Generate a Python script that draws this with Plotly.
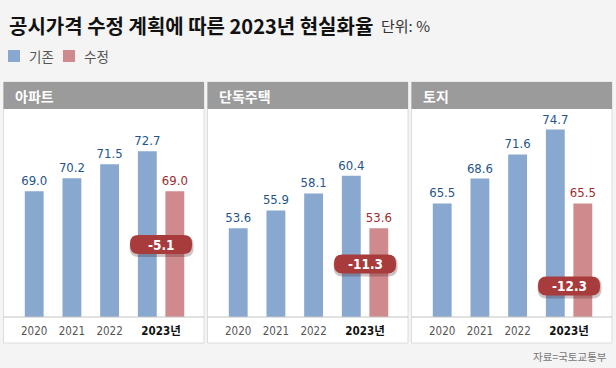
import plotly.graph_objects as go

# ---------------- data ----------------
years = ["2020", "2021", "2022", "2023년"]
categories = ["아파트", "단독주택", "토지"]
apt_base = [69.0, 70.2, 71.5, 72.7]
house_base = [53.6, 55.9, 58.1, 60.4]
land_base = [65.5, 68.6, 71.6, 74.7]
revised = [69.0, 53.6, 65.5]
diffs = [-5.1, -11.3, -12.3]
base_series = [apt_base, house_base, land_base]

# ---------------- styling / layout constants ----------------
W, H = 616, 368
BLUE = "#88a8d0"
RED = "#cf8a8d"
BLUE_TXT = "#24558a"
RED_TXT = "#9c2b2d"
PILL = "#a83b3c"
BG = "#f4f4f4"
HEADER = "#9b9b9b"
NARROW = "Liberation Sans Narrow, DejaVu Sans Condensed, Noto Sans CJK KR"
KR = "Noto Sans CJK KR"

panel_left = [3.5, 207.5, 411.5]
panel_w = 200.5
panel_top, header_bot, panel_bot = 82, 109, 343
plot_top, baseline = 112, 317
first_bar = 30.7   # px from panel left to first bar centre
unit = 37.7        # px per category step
red_off = 0.73     # offset of revised bar from 2023 base bar
y_ranges = [[57.44, 76.30], [42.06, 68.68], [51.38, 76.88]]
pill_cy = [244.5, 264, 286]
pill_w, pill_h = 62, 19


def px(x):
    return x / W


def py(y):
    return 1 - y / H


fig = go.Figure()
shapes = []
annotations = []

tick_pos = [0, 1, 2, 3 + red_off / 2]
tick_text = years[:3] + [f"<b><span style='color:#111'>{years[3]}</span></b>"]


def pill_path(cx, cy, w, h, r):
    x0, x1 = cx - w / 2, cx + w / 2
    y0, y1 = cy - h / 2, cy + h / 2
    pts = [("M", x0 + r, y0), ("L", x1 - r, y0), ("Q", x1, y0, x1, y0 + r),
           ("L", x1, y1 - r), ("Q", x1, y1, x1 - r, y1), ("L", x0 + r, y1),
           ("Q", x0, y1, x0, y1 - r), ("L", x0, y0 + r), ("Q", x0, y0, x0 + r, y0)]
    s = ""
    for p in pts:
        coords = p[1:]
        c = " ".join(f"{px(coords[k]):.5f},{py(coords[k + 1]):.5f}"
                     for k in range(0, len(coords), 2))
        s += f"{p[0]}{c} "
    return s + "Z"


for i in range(3):
    L = panel_left[i]
    R = L + panel_w
    sfx = "" if i == 0 else str(i + 1)
    xa = "x" + sfx
    ya = "y" + sfx
    xr = [-first_bar / unit, (panel_w - first_bar) / unit]

    fig.add_trace(go.Bar(
        x=[0, 1, 2, 3], y=base_series[i], xaxis=xa, yaxis=ya,
        marker=dict(color=BLUE, line=dict(width=0)), width=0.5,
        text=[f"{v:.1f}" for v in base_series[i]], textposition="outside",
        constraintext="none",
        textfont=dict(family=NARROW, size=13, color=BLUE_TXT),
        cliponaxis=False, showlegend=False, name="기존"))
    fig.add_trace(go.Bar(
        x=[3 + red_off], y=[revised[i]], xaxis=xa, yaxis=ya,
        marker=dict(color=RED, line=dict(width=0)), width=0.5,
        text=[f"{revised[i]:.1f}"], textposition="outside",
        constraintext="none",
        textfont=dict(family=NARROW, size=13, color=RED_TXT),
        cliponaxis=False, showlegend=False, name="수정"))

    fig.update_layout(**{
        "xaxis" + sfx: dict(domain=[px(L), px(R)], range=xr, anchor=ya,
                             tickvals=tick_pos, ticktext=tick_text,
                             showgrid=False, zeroline=False, showline=False,
                             ticks="", ticklabelstandoff=5,
                             tickfont=dict(family=NARROW, size=11.5, color="#555"),
                             fixedrange=True),
        "yaxis" + sfx: dict(domain=[py(baseline), py(plot_top)], range=y_ranges[i],
                             anchor=xa, visible=False, fixedrange=True),
    })

    shapes.append(dict(type="rect", xref="paper", yref="paper", layer="below",
                       x0=px(L), x1=px(R), y0=py(panel_bot), y1=py(panel_top),
                       fillcolor="white", line=dict(color="#dcdcdc", width=1)))
    shapes.append(dict(type="rect", xref="paper", yref="paper", layer="below",
                       x0=px(L), x1=px(R), y0=py(header_bot), y1=py(panel_top),
                       fillcolor=HEADER, line=dict(width=0)))
    shapes.append(dict(type="line", xref="paper", yref="paper", layer="above",
                       x0=px(L), x1=px(R), y0=py(baseline), y1=py(baseline),
                       line=dict(color="#c4c4c4", width=1.2)))
    annotations.append(dict(xref="paper", yref="paper", x=px(L + 9), y=py(95.5),
                            xanchor="left", yanchor="middle", showarrow=False,
                            text=f"<b>{categories[i]}</b>",
                            font=dict(family=KR, size=14, color="white")))

    cx = L + first_bar + tick_pos[3] * unit
    cy = pill_cy[i]
    shapes.append(dict(type="path", xref="paper", yref="paper", layer="above",
                       path=pill_path(cx + 0.5, cy + 2, pill_w + 2, pill_h + 2, 9),
                       fillcolor="rgba(60,20,20,0.25)", line=dict(width=0)))
    shapes.append(dict(type="path", xref="paper", yref="paper", layer="above",
                       path=pill_path(cx, cy, pill_w, pill_h, 8.5),
                       fillcolor=PILL, line=dict(width=0)))
    annotations.append(dict(xref="paper", yref="paper", x=px(cx), y=py(cy),
                            xanchor="center", yanchor="middle", showarrow=False,
                            text=f"<b>{diffs[i]:.1f}</b>",
                            font=dict(family=NARROW, size=13.5, color="white")))

annotations.append(dict(xref="paper", yref="paper", x=px(7), y=py(25),
                        xanchor="left", yanchor="middle", showarrow=False,
                        text="<b>공시가격 수정 계획에 따른 2023년 현실화율</b>",
                        font=dict(family=KR, size=20, color="#111")))
annotations.append(dict(xref="paper", yref="paper", x=px(379), y=py(26),
                        xanchor="left", yanchor="middle", showarrow=False,
                        text="단위: %",
                        font=dict(family=KR, size=15, color="#333")))

for lx, col, lab in [(8, BLUE, "기존"), (63, RED, "수정")]:
    shapes.append(dict(type="rect", xref="paper", yref="paper",
                       x0=px(lx), x1=px(lx + 12), y0=py(62), y1=py(50),
                       fillcolor=col, line=dict(width=0)))
    annotations.append(dict(xref="paper", yref="paper", x=px(lx + 19), y=py(56),
                            xanchor="left", yanchor="middle", showarrow=False,
                            text=lab, font=dict(family=KR, size=13.5, color="#555")))

annotations.append(dict(xref="paper", yref="paper", x=px(609), y=py(356),
                        xanchor="right", yanchor="middle", showarrow=False,
                        text="자료=국토교통부",
                        font=dict(family=KR, size=10.5, color="#777")))

fig.update_layout(width=W, height=H, margin=dict(l=0, r=0, t=0, b=0),
                  paper_bgcolor=BG, plot_bgcolor="rgba(0,0,0,0)",
                  barmode="overlay", shapes=shapes, annotations=annotations,
                  showlegend=False)

fig.write_html("out.html", config={"displayModeBar": False},
               post_script="document.body.style.margin='0';"
                           "document.body.style.overflow='hidden';")
